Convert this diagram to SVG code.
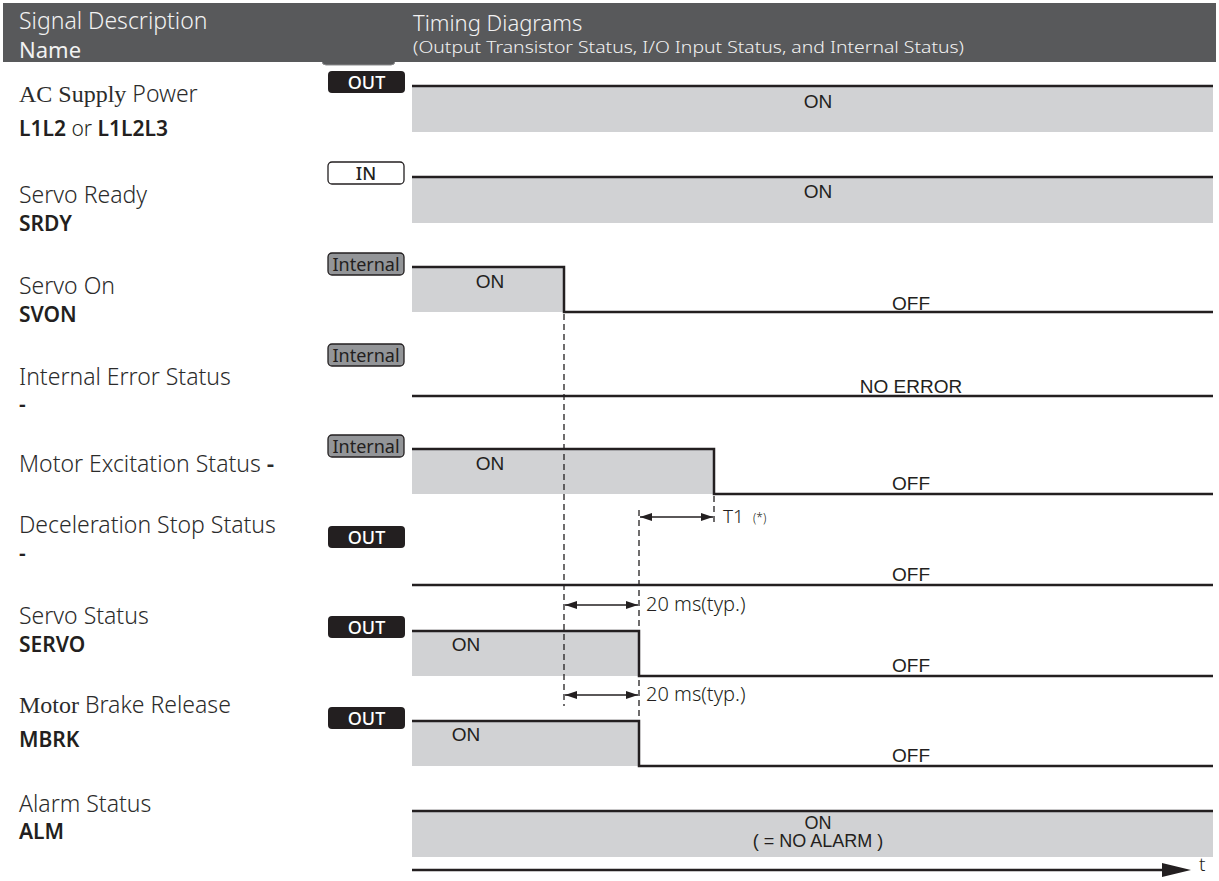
<svg xmlns="http://www.w3.org/2000/svg" width="1219" height="881" viewBox="0 0 1219 881">
<style>
.ht{font-family:"Noto Sans","Liberation Sans",sans-serif;fill:#f2f2f2;font-weight:300}
.desc{font-family:"Noto Sans","Liberation Sans",sans-serif;font-size:23px;font-weight:300;fill:#2b2b2b}
.serif{font-family:"Liberation Serif",serif;font-weight:400;font-size:24px}
.name{font-family:"Noto Sans","Liberation Sans",sans-serif;font-size:21px;font-weight:600;fill:#231f20}
.reg{font-weight:300}
.sig{fill:none;stroke:#231f20;stroke-width:2.5}
.gray{fill:#d1d2d4}
.val{font-family:"Liberation Sans",Arial,sans-serif;font-size:19px;fill:#231f20;text-anchor:middle}
.bout{fill:#231f20}
.bin{fill:#ffffff;stroke:#231f20;stroke-width:1.3}
.bint{fill:#939598;stroke:#231f20;stroke-width:1.3}
.bt{font-family:"Noto Sans","Liberation Sans",sans-serif;font-size:18px;font-weight:500;text-anchor:middle}
.dash{fill:none;stroke:#231f20;stroke-width:1.3;stroke-dasharray:6 4}
.dim{fill:none;stroke:#231f20;stroke-width:1.4;marker-start:url(#ah);marker-end:url(#ah)}
.note{font-family:"Noto Sans","Liberation Sans",sans-serif;font-size:20px;font-weight:300;fill:#231f20}
</style>
<defs>
<marker id="ah" viewBox="0 0 12 8" refX="12" refY="4" markerWidth="12" markerHeight="8" markerUnits="userSpaceOnUse" orient="auto-start-reverse">
<path d="M0,0 L12,4 L0,8 Z" fill="#231f20"/>
</marker>
</defs>

<g id="header">
<rect x="322" y="52" width="73" height="13" rx="4" fill="#58595b" stroke="#8a8b8d" stroke-width="1"/>
<rect x="3" y="3" width="1213" height="59" fill="#58595b"/>
<text class="ht" x="19" y="29" font-size="23">Signal Description</text>
<text class="ht" x="19" y="58" font-size="22" style="font-weight:400">Name</text>
<text class="ht" x="413" y="31" font-size="22">Timing Diagrams</text>
<text class="ht" x="413" y="53" font-size="16" textLength="551" lengthAdjust="spacingAndGlyphs">(Output Transistor Status, I/O Input Status, and Internal Status)</text>
</g>

<g id="row-ac">
<text class="desc" x="19" y="102"><tspan class="serif">AC Supply</tspan> Power</text>
<text class="name" x="19" y="136">L1L2 <tspan class="reg">or</tspan> L1L2L3</text>
<rect class="bout" x="328" y="71" width="77" height="22" rx="4"/>
<text class="bt" x="366.5" y="88.5" fill="#ffffff">OUT</text>
<rect class="gray" x="412" y="86" width="801" height="46"/>
<path class="sig" d="M412,86 H1213"/>
<text class="val" x="818" y="108">ON</text>
</g>

<g id="row-srdy">
<text class="desc" x="19" y="203">Servo Ready</text>
<text class="name" x="19" y="231">SRDY</text>
<rect class="bin" x="328" y="162" width="76" height="22" rx="4"/>
<text class="bt" x="366" y="179.5" fill="#231f20">IN</text>
<rect class="gray" x="412" y="177" width="801" height="46"/>
<path class="sig" d="M412,177 H1213"/>
<text class="val" x="818" y="198">ON</text>
</g>

<g id="row-svon">
<text class="desc" x="19" y="294">Servo On</text>
<text class="name" x="19" y="322">SVON</text>
<rect class="bint" x="328" y="253" width="76" height="22" rx="4"/>
<text class="bt" x="366" y="270.5" fill="#231f20" style="font-weight:400">Internal</text>
<rect class="gray" x="412" y="267" width="152" height="45"/>
<path class="sig" d="M412,267 H564 V312 H1213"/>
<text class="val" x="490" y="288">ON</text>
<text class="val" x="911" y="310">OFF</text>
</g>

<g id="row-error">
<text class="desc" x="19" y="385">Internal Error Status</text>
<text class="name" x="19" y="412">-</text>
<rect class="bint" x="328" y="344" width="76" height="22" rx="4"/>
<text class="bt" x="366" y="361.5" fill="#231f20" style="font-weight:400">Internal</text>
<path class="sig" d="M412,396 H1213"/>
<text class="val" x="911" y="393">NO ERROR</text>
</g>

<g id="row-excitation">
<text class="desc" x="19" y="472">Motor Excitation Status <tspan style="font-weight:600">-</tspan></text>
<rect class="bint" x="328" y="435" width="76" height="22" rx="4"/>
<text class="bt" x="366" y="452.5" fill="#231f20" style="font-weight:400">Internal</text>
<rect class="gray" x="412" y="449" width="302" height="45"/>
<path class="sig" d="M412,449 H714 V494 H1213"/>
<text class="val" x="490" y="470">ON</text>
<text class="val" x="911" y="490">OFF</text>
</g>

<g id="row-decel">
<text class="desc" x="19" y="533">Deceleration Stop Status</text>
<text class="name" x="19" y="561">-</text>
<rect class="bout" x="328" y="526" width="77" height="22" rx="4"/>
<text class="bt" x="366.5" y="543.5" fill="#ffffff">OUT</text>
<path class="sig" d="M412,585 H1213"/>
<text class="val" x="911" y="581">OFF</text>
</g>

<g id="row-servo">
<text class="desc" x="19" y="624">Servo Status</text>
<text class="name" x="19" y="652">SERVO</text>
<rect class="bout" x="328" y="616" width="77" height="22" rx="4"/>
<text class="bt" x="366.5" y="633.5" fill="#ffffff">OUT</text>
<rect class="gray" x="412" y="631" width="227" height="45"/>
<path class="sig" d="M412,631 H639 V676 H1213"/>
<text class="val" x="466" y="651">ON</text>
<text class="val" x="911" y="672">OFF</text>
</g>

<g id="row-mbrk">
<text class="desc" x="19" y="713"><tspan class="serif">Motor</tspan> Brake Release</text>
<text class="name" x="19" y="747">MBRK</text>
<rect class="bout" x="328" y="707" width="77" height="22" rx="4"/>
<text class="bt" x="366.5" y="724.5" fill="#ffffff">OUT</text>
<rect class="gray" x="412" y="721" width="227" height="45"/>
<path class="sig" d="M412,721 H639 V766 H1213"/>
<text class="val" x="466" y="741">ON</text>
<text class="val" x="911" y="762">OFF</text>
</g>

<g id="row-alm">
<text class="desc" x="19" y="812">Alarm Status</text>
<text class="name" x="19" y="839">ALM</text>
<rect class="gray" x="412" y="811" width="801" height="46"/>
<path class="sig" d="M412,811 H1213"/>
<text class="val" x="818" y="829" style="font-size:18px">ON</text>
<text class="val" x="818" y="847" style="font-size:18px">( = NO ALARM )</text>
</g>

<g id="time-axis">
<path d="M412,870 H1166" stroke="#231f20" stroke-width="2.5" fill="none"/>
<path d="M1162,863 L1191,870 L1162,877 Z" fill="#231f20"/>
<text class="note" x="1199" y="871" style="font-size:19px">t</text>
</g>

<g id="connectors">
<path class="dash" d="M564,314 V706"/>
<path class="dash" d="M639,510 V722"/>
<path class="dash" d="M714,496 V524"/>
<path class="dim" d="M640,517 H713"/>
<text class="note" x="723" y="523" style="font-size:19px">T1</text>
<text class="note" x="753" y="522" style="font-size:12px">(*)</text>
<path class="dim" d="M565,605 H638"/>
<text class="note" x="646" y="611">20 ms(typ.)</text>
<path class="dim" d="M565,695 H638"/>
<text class="note" x="646" y="701">20 ms(typ.)</text>
</g>
</svg>
